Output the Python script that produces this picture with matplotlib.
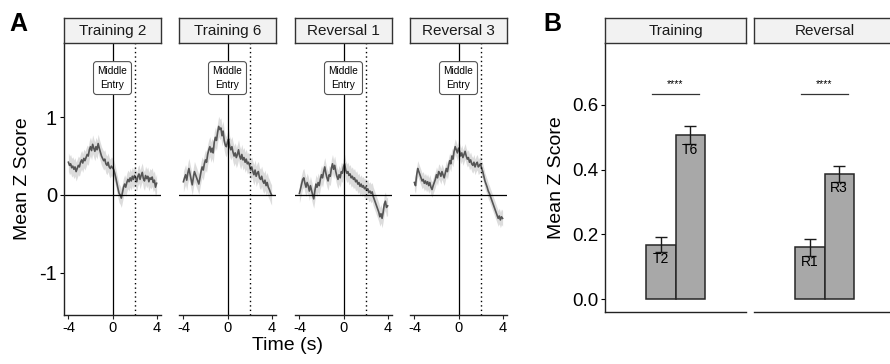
import numpy as np
import matplotlib
matplotlib.use("Agg")
import matplotlib.pyplot as plt

plt.rcParams['font.family'] = ['Liberation Sans', 'DejaVu Sans']

# ---------------- data ----------------
time_s = [round(-4 + 0.1 * i, 1) for i in range(81)]

z_training2 = [0.42, 0.38, 0.40, 0.35, 0.37, 0.33, 0.36, 0.30, 0.34, 0.38,
               0.36, 0.42, 0.45, 0.41, 0.47, 0.44, 0.48, 0.52, 0.50, 0.58,
               0.62, 0.57, 0.65, 0.60, 0.56, 0.62, 0.58, 0.66, 0.60, 0.55,
               0.50, 0.47, 0.44, 0.46, 0.40, 0.38, 0.42, 0.36, 0.34, 0.37,
               0.35, 0.33, 0.28, 0.22, 0.15, 0.08, 0.02, 0.00, -0.04, 0.03,
               0.10, 0.14, 0.10, 0.16, 0.20, 0.17, 0.22, 0.18, 0.24, 0.20,
               0.25, 0.22, 0.17, 0.24, 0.27, 0.20, 0.25, 0.29, 0.21, 0.18,
               0.25, 0.21, 0.24, 0.17, 0.22, 0.20, 0.23, 0.16, 0.19, 0.10,
               0.15]
z_training6 = [0.17, 0.22, 0.26, 0.19, 0.28, 0.34, 0.27, 0.20, 0.13, 0.22,
               0.30, 0.26, 0.22, 0.18, 0.14, 0.22, 0.30, 0.36, 0.32, 0.40,
               0.45, 0.42, 0.52, 0.58, 0.62, 0.55, 0.60, 0.54, 0.68, 0.74,
               0.70, 0.80, 0.88, 0.84, 0.86, 0.76, 0.82, 0.70, 0.64, 0.62,
               0.68, 0.72, 0.62, 0.58, 0.62, 0.55, 0.50, 0.54, 0.48, 0.52,
               0.58, 0.50, 0.46, 0.52, 0.45, 0.48, 0.42, 0.46, 0.40, 0.42,
               0.38, 0.32, 0.36, 0.30, 0.26, 0.32, 0.24, 0.28, 0.30, 0.22,
               0.20, 0.24, 0.18, 0.15, 0.19, 0.12, 0.16, 0.10, 0.07, 0.03,
               0.00]
z_reversal1 = [0.02, 0.08, 0.14, 0.20, 0.22, 0.15, 0.10, 0.16, 0.12, 0.05,
               0.12, 0.06, 0.00, -0.05, 0.05, 0.14, 0.10, 0.16, 0.12, 0.20,
               0.26, 0.22, 0.30, 0.36, 0.28, 0.22, 0.18, 0.26, 0.24, 0.34,
               0.40, 0.33, 0.38, 0.30, 0.24, 0.20, 0.26, 0.22, 0.30, 0.28,
               0.36, 0.40, 0.32, 0.28, 0.30, 0.25, 0.27, 0.22, 0.24, 0.20,
               0.22, 0.17, 0.19, 0.14, 0.16, 0.11, 0.14, 0.10, 0.12, 0.08,
               0.10, 0.06, 0.08, 0.03, 0.05, 0.02, 0.04, -0.02, -0.06, -0.10,
               -0.14, -0.18, -0.22, -0.28, -0.24, -0.30, -0.22, -0.12, -0.08, -0.16,
               -0.14]
z_reversal3 = [0.16, 0.12, 0.25, 0.34, 0.30, 0.26, 0.22, 0.18, 0.20, 0.15,
               0.18, 0.14, 0.17, 0.12, 0.16, 0.10, 0.07, 0.12, 0.16, 0.20,
               0.26, 0.22, 0.30, 0.28, 0.24, 0.30, 0.26, 0.22, 0.28, 0.34,
               0.30, 0.38, 0.44, 0.40, 0.50, 0.46, 0.56, 0.62, 0.58, 0.54,
               0.60, 0.56, 0.50, 0.54, 0.48, 0.52, 0.56, 0.50, 0.46, 0.48,
               0.42, 0.45, 0.40, 0.38, 0.42, 0.36, 0.40, 0.42, 0.36, 0.38,
               0.40, 0.34, 0.30, 0.24, 0.18, 0.14, 0.10, 0.05, 0.02, -0.02,
               -0.06, -0.10, -0.14, -0.18, -0.22, -0.26, -0.30, -0.27, -0.32, -0.28,
               -0.30]
sem_traces = [0.12, 0.13, 0.12, 0.10]

trace_titles = ["Training 2", "Training 6", "Reversal 1", "Reversal 3"]
traces = [z_training2, z_training6, z_reversal1, z_reversal3]

facet_titles = ["Training", "Reversal"]
bar_labels = [["T2", "T6"], ["R1", "R3"]]
bar_means = [[0.169, 0.506], [0.160, 0.387]]
bar_sems = [[0.024, 0.028], [0.026, 0.025]]
sig_labels = ["****", "****"]

# ---------------- layout helpers ----------------
W, H = 890, 364
fig = plt.figure(figsize=(W / 100, H / 100), dpi=100)


def ax_at(l, t, r, b, **kw):
    return fig.add_axes([l / W, (H - b) / H, (r - l) / W, (b - t) / H], **kw)


def strip(l, t, r, b, text):
    s = ax_at(l, t, r, b)
    s.set_facecolor('#F2F2F2')
    s.set_xticks([]); s.set_yticks([])
    for sp in s.spines.values():
        sp.set_color('#333333'); sp.set_linewidth(1.0)
    s.text(0.5, 0.48, text, ha='center', va='center', fontsize=11,
           color='#1A1A1A', transform=s.transAxes)
    return s


# ---------------- panel A ----------------
a_lefts = [64, 179, 295, 410]
a_width = 97
a_top, a_bot = 43, 315
for i, (lft, title, z, se) in enumerate(zip(a_lefts, trace_titles, traces, sem_traces)):
    ax = ax_at(lft, a_top, lft + a_width, a_bot)
    t = np.array(time_s)
    zz = np.array(z)
    ax.fill_between(t, zz - se, zz + se, color='#D9D9D9', alpha=0.9, lw=0)
    ax.plot(t, zz, color='#555555', lw=1.2)
    ax.axhline(0, color='black', lw=0.9)
    ax.axvline(0, color='black', lw=0.9)
    ax.axvline(2, color='black', lw=1.0, ls=(0, (1, 2.2)))
    ax.text(0, 1.5, "Middle\nEntry", ha='center', va='center', fontsize=7.3,
            linespacing=1.6,
            bbox=dict(boxstyle='round,pad=0.4,rounding_size=0.3', fc='white',
                      ec='#555555', lw=0.8))
    ax.set_xlim(-4.4, 4.4)
    ax.set_ylim(-1.54, 1.95)
    ax.set_xticks([-4, 0, 4])
    ax.set_xticklabels(['-4', '0', '4'], fontsize=10.5)
    ax.tick_params(axis='x', length=3, width=0.8, pad=1.5, colors='#222222',
                   labelcolor='black')
    for sp in ['top', 'right']:
        ax.spines[sp].set_visible(False)
    ax.spines['bottom'].set_color('#222222'); ax.spines['bottom'].set_linewidth(1.0)
    if i == 0:
        ax.set_yticks([-1, 0, 1])
        ax.set_yticklabels(['-1', '0', '1'], fontsize=14.5)
        ax.tick_params(axis='y', length=3, width=0.8, pad=2)
        ax.spines['left'].set_color('#222222'); ax.spines['left'].set_linewidth(1.0)
        ax.set_ylabel("Mean Z Score", fontsize=14, labelpad=6)
    else:
        ax.spines['left'].set_visible(False)
        ax.set_yticks([])
    ax.patch.set_alpha(0)
    strip(lft, 18, lft + a_width, a_top, title)

fig.text(287 / W, 1 - 345 / H, "Time (s)", ha='center', va='center', fontsize=14)
fig.text(9 / W, 1 - 24 / H, "A", ha='left', va='center', fontsize=18, fontweight='bold')

# ---------------- panel B ----------------
b_lefts = [605, 754]
b_width = 141
b_top, b_bot = 43, 312
for j, (lft, title) in enumerate(zip(b_lefts, facet_titles)):
    ax = ax_at(lft, b_top, lft + b_width, b_bot)
    xs = [0.875, 1.125]
    ax.bar(xs, bar_means[j], width=0.25, color='#A8A8A8', edgecolor='#262626',
           linewidth=1.1, zorder=2)
    ax.errorbar(xs, bar_means[j], yerr=bar_sems[j], fmt='none', ecolor='#1A1A1A',
                elinewidth=1.0, capsize=4, capthick=1.0, zorder=3)
    for x, m, lab in zip(xs, bar_means[j], bar_labels[j]):
        ax.text(x, m - 0.045, lab, ha='center', va='center', fontsize=10, zorder=4)
    ax.plot([0.8, 1.2], [0.632, 0.632], color='#333333', lw=0.9)
    ax.text(1.0, 0.664, sig_labels[j], ha='center', va='center', fontsize=7.5)
    ax.set_xlim(0.4, 1.6)
    ax.set_ylim(-0.039, 0.79)
    ax.set_xticks([])
    for sp in ['top', 'right']:
        ax.spines[sp].set_visible(False)
    ax.spines['bottom'].set_color('#222222'); ax.spines['bottom'].set_linewidth(1.0)
    if j == 0:
        ax.set_yticks([0.0, 0.2, 0.4, 0.6])
        ax.set_yticklabels(['0.0', '0.2', '0.4', '0.6'], fontsize=13.5)
        ax.tick_params(axis='y', length=3, width=0.8, pad=2)
        ax.spines['left'].set_color('#222222'); ax.spines['left'].set_linewidth(1.0)
        ax.set_ylabel("Mean Z Score", fontsize=14, labelpad=5)
    else:
        ax.spines['left'].set_visible(False)
        ax.set_yticks([])
    ax.patch.set_alpha(0)
    strip(lft, 18, lft + b_width, b_top, title)

fig.text(543 / W, 1 - 24 / H, "B", ha='left', va='center', fontsize=18, fontweight='bold')

fig.savefig("out.png", dpi=100)
